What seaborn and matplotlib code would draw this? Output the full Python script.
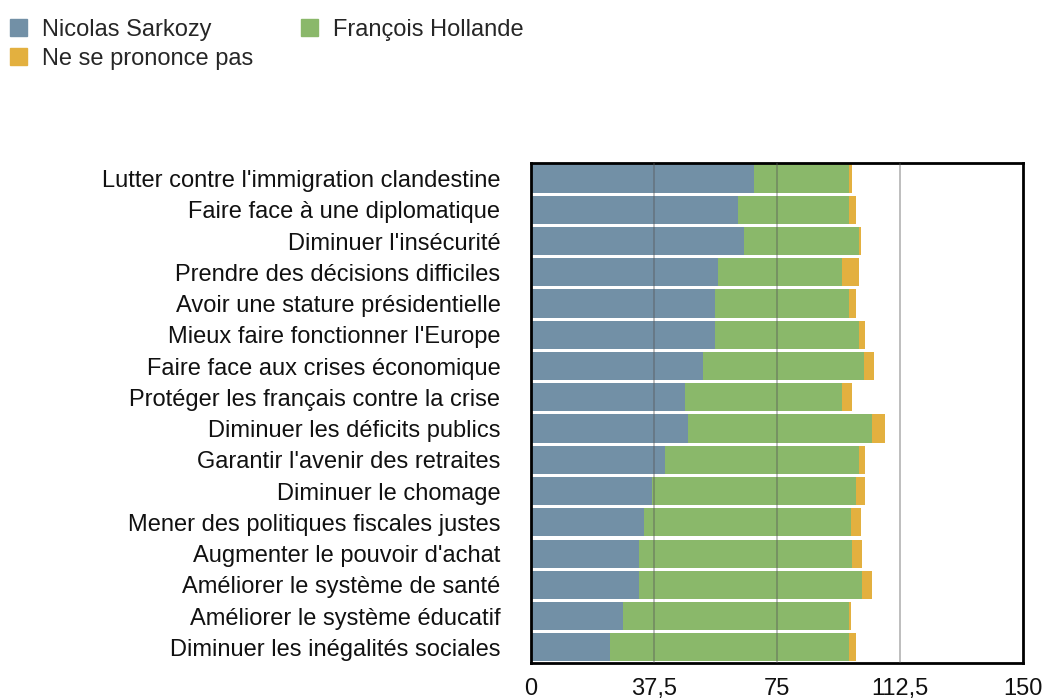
import pandas as pd
import matplotlib
matplotlib.use("Agg")
import matplotlib.pyplot as plt
import matplotlib.patches as mpatches
import seaborn as sns

# Données
themes = [
    "Lutter contre l'immigration clandestine",
    "Faire face à une diplomatique",
    "Diminuer l'insécurité",
    "Prendre des décisions difficiles",
    "Avoir une stature présidentielle",
    "Mieux faire fonctionner l'Europe",
    "Faire face aux crises économique",
    "Protéger les français contre la crise",
    "Diminuer les déficits publics",
    "Garantir l'avenir des retraites",
    "Diminuer le chomage",
    "Mener des politiques fiscales justes",
    "Augmenter le pouvoir d'achat",
    "Améliorer le système de santé",
    "Améliorer le système éducatif",
    "Diminuer les inégalités sociales",
]
sarkozy = [68, 63, 65, 57, 56, 56, 52.5, 47, 48, 41, 37, 34.5, 33, 33, 28, 24]
hollande = [29, 34, 35, 38, 41, 44, 49, 48, 56, 59, 62, 63, 65, 68, 69, 73]
nsp = [1, 2, 0.5, 5, 2, 2, 3, 3, 4, 2, 3, 3, 3, 3, 0.5, 2]
ticks = [0, 37.5, 75, 112.5, 150]
tick_labels = ["0", "37,5", "75", "112,5", "150"]

c_s = "#7290a6"
c_h = "#8ab86a"
c_n = "#e3b03f"

df = pd.DataFrame({"theme": themes, "s": sarkozy, "h": hollande, "n": nsp})
df["sh"] = df["s"] + df["h"]
df["tot"] = df["sh"] + df["n"]

sns.set_theme(style="white")
plt.rcParams["font.family"] = ["Liberation Sans", "DejaVu Sans"]

fig = plt.figure(figsize=(10.61, 6.99), dpi=100)
ax = fig.add_axes([0.5005, 0.0515, 0.4635, 0.7155])

# barres empilées : on superpose les cumuls
kw = dict(y="theme", orient="h", width=0.9, saturation=1, linewidth=0, ax=ax)
sns.barplot(data=df, x="tot", color=c_n, **kw)
sns.barplot(data=df, x="sh", color=c_h, **kw)
sns.barplot(data=df, x="s", color=c_s, **kw)

for t in ticks[1:4]:
    ax.axvline(t, color="#555555", lw=1.2, alpha=0.45, zorder=5)

ax.set_xlim(0, 150)
ax.set_ylim(15.5, -0.5)
ax.set_xticks(ticks)
ax.set_xticklabels(tick_labels)
ax.set_xlabel("")
ax.set_ylabel("")
ax.tick_params(axis="x", length=0, pad=11, labelsize=17, colors="#111111")
ax.tick_params(axis="y", length=0, pad=22, labelsize=17, colors="#111111")
for sp in ax.spines.values():
    sp.set_visible(True)
    sp.set_color("black")
    sp.set_linewidth(2)

handles = [
    mpatches.Patch(color=c_s, label="Nicolas Sarkozy"),
    mpatches.Patch(color=c_n, label="Ne se prononce pas"),
    mpatches.Patch(color=c_h, label="François Hollande"),
]
fig.legend(handles=handles, ncol=2, loc="upper left",
           bbox_to_anchor=(10 / 1061, 1 - 19 / 699),
           frameon=False, fontsize=17, handlelength=0.72, handleheight=0.72,
           handletextpad=0.64, columnspacing=2.0, labelspacing=0.3,
           borderaxespad=0, borderpad=0)

fig.savefig("out.png", dpi=100)
